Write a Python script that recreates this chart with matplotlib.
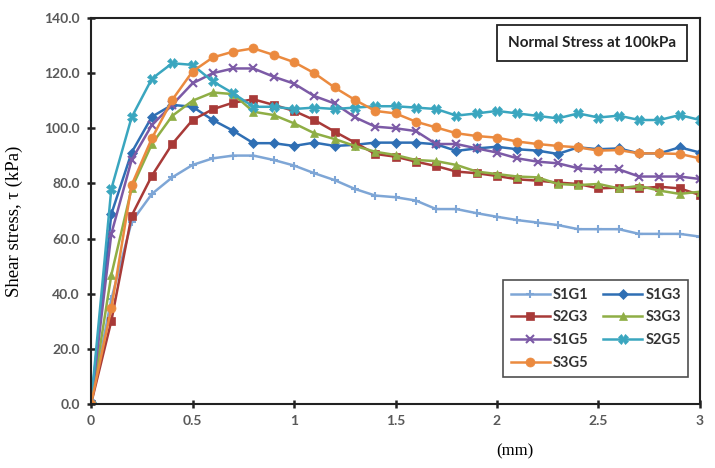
import numpy as np
import matplotlib.pyplot as plt
from matplotlib.ticker import FormatStrFormatter

# displacement (mm), one reading every 0.1 mm
disp = [round(0.1 * i, 1) for i in range(31)]

s1g1 = [0, 38, 66.1, 76.2, 82.2, 86.7, 89.1, 90.1, 90.1, 88.5, 86.5,
        83.7, 81.2, 78.0, 75.6, 75.0, 73.8, 70.7, 70.7, 69.2, 67.9,
        66.7, 65.8, 64.9, 63.4, 63.4, 63.4, 61.7, 61.7, 61.7, 60.7]
s1g3 = [0, 68.9, 91.2, 104.2, 108.5, 107.8, 103.0, 99.1, 94.6, 94.6, 93.6,
        94.8, 93.6, 94.0, 94.8, 94.8, 94.8, 94.2, 91.8, 92.7, 93.3,
        92.4, 91.9, 90.7, 93.1, 92.4, 92.7, 90.9, 90.9, 93.1, 91.2]
s2g3 = [0, 30.1, 68.3, 82.8, 94.3, 103.0, 106.9, 109.3, 110.5, 108.5, 106.3,
        103.0, 98.8, 94.8, 90.7, 89.7, 87.9, 86.3, 84.3, 83.7, 82.7,
        81.5, 81.0, 80.3, 79.8, 78.2, 78.5, 78.2, 78.8, 78.2, 75.8]
s3g3 = [0, 46.8, 78.2, 94.3, 104.5, 110.0, 113.0, 112.4, 106.0, 104.8, 101.8,
        98.2, 96.1, 93.6, 91.5, 90.3, 88.5, 88.1, 86.7, 84.3, 83.4,
        82.5, 82.2, 79.8, 79.4, 79.8, 78.2, 79.1, 77.4, 76.2, 77.0]
s1g5 = [0, 61.7, 88.5, 101.2, 108.5, 116.3, 120.0, 121.7, 121.7, 118.7, 116.2,
        111.7, 109.0, 104.0, 100.6, 100.0, 99.0, 94.3, 94.3, 92.7, 91.2,
        89.1, 87.9, 87.3, 85.5, 85.1, 85.1, 82.5, 82.5, 82.5, 81.6]
s2g5 = [0, 78.0, 104.0, 118.0, 123.6, 123.0, 117.0, 112.7, 107.8, 107.8, 107.0,
        107.5, 107.0, 107.5, 108.0, 108.0, 107.5, 107.0, 104.6, 105.4, 106.3,
        105.4, 104.5, 103.6, 105.4, 103.9, 104.6, 103.0, 103.0, 104.8, 103.0]
s3g5 = [0, 34.7, 79.4, 96.4, 110.3, 120.6, 125.7, 127.8, 129.0, 126.6, 124.0,
        120.0, 114.8, 110.3, 106.3, 105.4, 102.4, 100.3, 98.2, 97.2, 96.6,
        95.2, 94.3, 93.6, 93.1, 91.9, 92.1, 90.9, 90.9, 90.7, 89.1]

names = ['S1G1', 'S1G3', 'S2G3', 'S3G3', 'S1G5', 'S2G5', 'S3G5']
series = [s1g1, s1g3, s2g3, s3g3, s1g5, s2g5, s3g5]
colors = ['#7ea6d6', '#2f6fb4', '#a83a38', '#8fae45', '#7c5aa6', '#3aa6bf', '#eb8a3f']
markers = ['+', 'D', 's', '^', 'x', 'X', 'o']
msizes = [6, 5, 5.5, 6, 6, 6.5, 6.5]

fig = plt.figure(figsize=(7.15, 4.68), dpi=100)
ax = fig.add_axes([0.1273, 0.1368, 0.8517, 0.8247])

lines = {}
for name, vals, c, m, ms in zip(names, series, colors, markers, msizes):
    ln, = ax.plot(disp, vals, color=c, marker=m, markersize=ms, linewidth=1.8,
                  markeredgewidth=1.5 if m in '+x' else 0.5,
                  markeredgecolor=c, label=name)
    lines[name] = ln

ax.set_xlim(0, 3)
ax.set_ylim(0, 140)
ax.set_xticks([0, 0.5, 1, 1.5, 2, 2.5, 3])
ax.set_xticklabels(['0', '0.5', '1', '1.5', '2', '2.5', '3'])
ax.set_yticks(np.arange(0, 141, 20))
ax.yaxis.set_major_formatter(FormatStrFormatter('%.1f'))

for sp in ax.spines.values():
    sp.set_linewidth(1.5)
    sp.set_color('#222222')
ax.tick_params(direction='inout', length=6, width=1.8, color='#222222',
               labelsize=10, labelcolor='#595959', pad=5)
for lab in ax.get_xticklabels() + ax.get_yticklabels():
    lab.set_fontweight('bold')
    lab.set_family('Lato')

ax.set_ylabel('Shear stress, \u03c4 (kPa)', family='Liberation Serif', fontsize=13.5)
ax.yaxis.set_label_coords(-0.112, 0.474)
fig.text(0.72, 0.028, '(mm)', family='Liberation Serif', fontsize=12, ha='center')

ax.text(0.823, 0.935, 'Normal Stress at 100kPa', transform=ax.transAxes,
        ha='center', va='center', fontsize=11, fontweight='bold', family='Lato',
        color='#222222',
        bbox=dict(boxstyle='square,pad=0.7', fc='white', ec='#222222', lw=1.3))

order = ['S1G1', 'S2G3', 'S1G5', 'S3G5', 'S1G3', 'S3G3', 'S2G5']
leg = ax.legend([lines[n] for n in order], order, ncol=2, loc='upper left',
                bbox_to_anchor=(0.665, 0.339), frameon=True, fancybox=False,
                prop={'family': 'Lato', 'weight': 'bold', 'size': 10.5},
                handlelength=2.7, columnspacing=1.0, labelspacing=0.6,
                borderpad=0.5, handletextpad=0.2)
leg.get_frame().set_edgecolor('#222222')
leg.get_frame().set_linewidth(1.2)
for t in leg.get_texts():
    t.set_color('#333333')

fig.savefig('out.png', dpi=100)
